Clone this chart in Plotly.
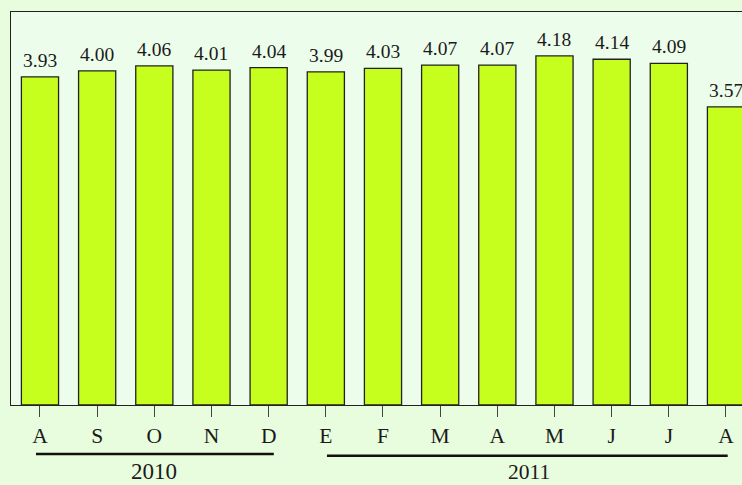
import plotly.graph_objects as go

months = ["A", "S", "O", "N", "D", "E", "F", "M", "A", "M", "J", "J", "A"]
values = [3.93, 4.00, 4.06, 4.01, 4.04, 3.99, 4.03, 4.07, 4.07, 4.18, 4.14, 4.09, 3.57]
labels = ["3.93", "4.00", "4.06", "4.01", "4.04", "3.99", "4.03", "4.07", "4.07", "4.18", "4.14", "4.09", "3.57"]
years = ["2010", "2011"]

x = list(range(len(months)))
FONT = "Liberation Serif"
TXT = "#1a1a1a"

fig = go.Figure()
fig.add_trace(go.Bar(
    x=x, y=values, width=0.65,
    marker=dict(color="#c6ff1e", line=dict(color="#222222", width=1.3)),
    hoverinfo="skip",
))

annotations = []
for xi, v, t in zip(x, values, labels):
    annotations.append(dict(x=xi, y=v, text=t, showarrow=False, xref="x", yref="y",
                            yanchor="bottom", yshift=4,
                            font=dict(family=FONT, size=19.5, color=TXT)))

annotations.append(dict(x=2.0, y=-0.168, xref="x", yref="paper", text=years[0], showarrow=False,
                        yanchor="middle", font=dict(family=FONT, size=23, color=TXT)))
annotations.append(dict(x=8.55, y=-0.170, xref="x", yref="paper", text=years[1], showarrow=False,
                        yanchor="middle", font=dict(family=FONT, size=21.5, color=TXT)))

shapes = [
    dict(type="line", xref="x", yref="paper", x0=-0.07, x1=4.09, y0=-0.1247, y1=-0.1247,
         line=dict(color="#111111", width=2.5)),
    dict(type="line", xref="x", yref="paper", x0=5.02, x1=12.03, y0=-0.129, y1=-0.129,
         line=dict(color="#111111", width=2.5)),
]

fig.update_layout(
    width=742, height=485,
    margin=dict(l=11, r=0, t=12, b=80),
    paper_bgcolor="#e8fcde",
    plot_bgcolor="#edfdeb",
    showlegend=False,
    annotations=annotations,
    shapes=shapes,
    bargap=0.35,
)
fig.update_xaxes(
    range=[-0.507, 12.28],
    tickmode="array", tickvals=x, ticktext=months,
    showline=True, linecolor="#222222", linewidth=1.3, mirror=True,
    ticks="outside", ticklen=11, tickcolor="#444444", tickwidth=1,
    ticklabelstandoff=0,
    tickfont=dict(family=FONT, size=21.5, color=TXT),
    showgrid=False, zeroline=False,
)
fig.update_yaxes(
    range=[0, 4.706],
    showline=True, linecolor="#222222", linewidth=1.3, mirror=False,
    showticklabels=False, ticks="", showgrid=False, zeroline=False,
)

fig.write_html("out.html")
